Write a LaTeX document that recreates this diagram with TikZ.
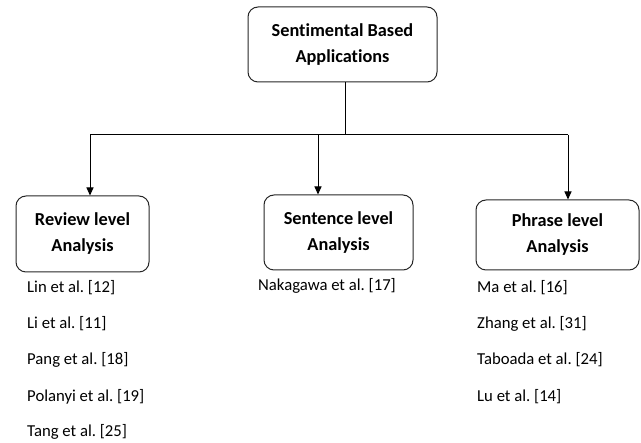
\documentclass[tikz,border=0pt]{standalone}
\usepackage{fontspec}
\setmainfont{Carlito}[Ligatures=NoCommon]
\usetikzlibrary{arrows.meta}
\frenchspacing
\begin{document}
\begin{tikzpicture}[x=1pt,y=-1pt,line join=bevel,>={Triangle[length=8pt,width=7pt]}]
  \tikzstyle{block}=[draw=black!85,line width=1pt,rounded corners=10pt,align=center,font=\fontsize{18.3}{26}\selectfont\bfseries,inner sep=0pt]
  \tikzstyle{ref}=[anchor=west,inner sep=0pt,font=\fontsize{16.7}{20}\selectfont]
  \useasboundingbox (0,0) rectangle (641,443);
  % boxes
  \node[block, minimum width=189pt, minimum height=75pt] (app) at (342.5,44.5) {Sentimental Based\\Applications};
  \node[block, minimum width=133pt, minimum height=76pt] (review) at (82.5,234) {Review level\\Analysis};
  \node[block, minimum width=149pt, minimum height=75pt] (sentence) at (338.5,232.5) {Sentence level\\Analysis};
  \node[block, minimum width=163pt, minimum height=70pt] (phrase) at (557.5,235) {Phrase level\\Analysis};
  % branching points
  \coordinate (hub) at (345,135);
  \coordinate (J_1) at (90,135);
  \coordinate (J_2) at (318,135);
  \coordinate (J_3) at (568,135);
  \draw [line width=1pt] (app.south -| hub) -- (hub);
  \draw [line width=1pt] (J_1) -- (J_3);
  \draw [->, line width=1pt] (J_1) -- (review.north -| J_1);
  \draw [->, line width=1pt] (J_2) -- (sentence.north -| J_2);
  \draw [->, line width=1pt] (J_3) -- (phrase.north -| J_3);
  % references
  \node[ref] (R_1) at (27,288) {Lin et al. [12]};
  \node[ref] (R_2) at (27,324) {Li et al. [11]};
  \node[ref] (R_3) at (27,360) {Pang et al. [18]};
  \node[ref] (R_4) at (27,397) {Polanyi et al. [19]};
  \node[ref] (R_5) at (27,432) {Tang et al. [25]};
  \node[ref] (S_1) at (258,286) {Nakagawa et al. [17]};
  \node[ref] (P_1) at (477,288) {Ma et al. [16]};
  \node[ref] (P_2) at (477,324) {Zhang et al. [31]};
  \node[ref] (P_3) at (477,360) {Taboada et al. [24]};
  \node[ref] (P_4) at (477,397) {Lu et al. [14]};
\end{tikzpicture}
\end{document}
